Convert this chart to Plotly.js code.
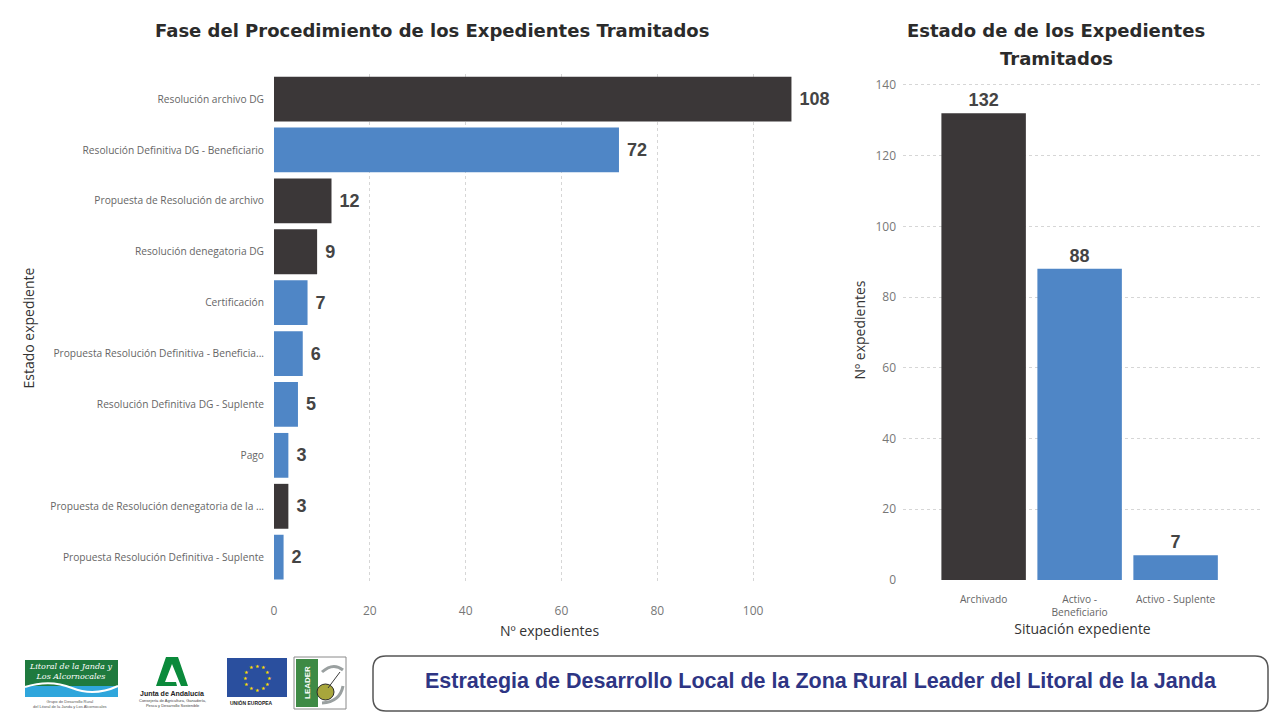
<!DOCTYPE html>
<html>
<head>
<meta charset="utf-8">
<script src="https://cdn.plot.ly/plotly-3.0.1.min.js"></script>
<style>
html,body{margin:0;padding:0;background:#fff;}
#chart{width:1280px;height:720px;}
</style>
</head>
<body>
<div id="chart"></div>
<script>
// ---- data ----
const fases = [
  'Resolución archivo DG',
  'Resolución Definitiva DG - Beneficiario',
  'Propuesta de Resolución de archivo',
  'Resolución denegatoria DG',
  'Certificación',
  'Propuesta Resolución Definitiva - Beneficia...',
  'Resolución Definitiva DG - Suplente',
  'Pago',
  'Propuesta de Resolución denegatoria de la ...',
  'Propuesta Resolución Definitiva - Suplente'
];
const faseValores = [108, 72, 12, 9, 7, 6, 5, 3, 3, 2];
const faseSituacion = ['Archivado','Activo','Archivado','Archivado','Activo','Activo','Activo','Activo','Archivado','Activo'];

const situaciones = ['Archivado', 'Activo -<br>Beneficiario', 'Activo - Suplente'];
const situacionValores = [132, 88, 7];
const situacionTipo = ['Archivado', 'Activo', 'Activo'];

const xTicks = [0, 20, 40, 60, 80, 100];
const yTicks = [0, 20, 40, 60, 80, 100, 120, 140];

// ---- styling ----
const colorMap = {Archivado: '#3b3738', Activo: '#4f86c6'};
const W = 1280, H = 720;
const X = px => px / W;
const Y = py => 1 - py / H;
const uiFont = 'Segoe UI, Open Sans, Noto Sans, sans-serif';
const titleFont = {family: 'DejaVu Sans, sans-serif', size: 18, color: '#2b2b2b', weight: 'bold'};
const labelFont = {family: 'Liberation Sans, Arial, sans-serif', size: 18, color: '#444444', weight: 'bold'};

const traces = [
  {
    type: 'bar', orientation: 'h',
    y: fases, x: faseValores,
    marker: {color: faseSituacion.map(s => colorMap[s])},
    text: faseValores.map(v => '\u00a0' + v), textposition: 'outside',
    textfont: labelFont, cliponaxis: false,
    xaxis: 'x', yaxis: 'y', hoverinfo: 'x+y'
  },
  {
    type: 'bar',
    x: situaciones, y: situacionValores,
    marker: {color: situacionTipo.map(s => colorMap[s])},
    text: situacionValores.map(String), textposition: 'outside',
    textfont: labelFont, cliponaxis: false,
    xaxis: 'x2', yaxis: 'y2', hoverinfo: 'x+y'
  }
];

// rounded rectangle path in paper coords
function roundRect(x0, y0, x1, y1, r) {
  const p = (x, y) => X(x) + ',' + Y(y);
  return 'M' + p(x0 + r, y0) + ' L' + p(x1 - r, y0) + ' Q' + p(x1, y0) + ' ' + p(x1, y0 + r) +
    ' L' + p(x1, y1 - r) + ' Q' + p(x1, y1) + ' ' + p(x1 - r, y1) +
    ' L' + p(x0 + r, y1) + ' Q' + p(x0, y1) + ' ' + p(x0, y1 - r) +
    ' L' + p(x0, y0 + r) + ' Q' + p(x0, y0) + ' ' + p(x0 + r, y0) + ' Z';
}
function pathPx(pts, close) {
  return pts.map((pt, i) => (i ? 'L' : 'M') + X(pt[0]) + ',' + Y(pt[1])).join(' ') + (close ? ' Z' : '');
}

const shapes = [
  // banner box
  {type: 'path', xref: 'paper', yref: 'paper', path: roundRect(373, 656, 1268, 711, 13),
   line: {color: '#555555', width: 1.5}, fillcolor: 'rgba(0,0,0,0)'},
  // logo 1: Litoral
  {type: 'rect', xref: 'paper', yref: 'paper', x0: X(25), x1: X(118), y0: Y(660), y1: Y(697),
   fillcolor: '#1f7a3e', line: {width: 0}},
  {type: 'rect', xref: 'paper', yref: 'paper', x0: X(25), x1: X(118), y0: Y(686), y1: Y(697),
   fillcolor: '#2fa6dc', line: {width: 0}},
  {type: 'path', xref: 'paper', yref: 'paper',
   path: 'M' + X(25) + ',' + Y(687) + ' Q' + X(50) + ',' + Y(679) + ' ' + X(72) + ',' + Y(688) + ' T' + X(118) + ',' + Y(686),
   line: {color: '#ffffff', width: 2}},
  // logo 2: Junta de Andalucía "A"
  {type: 'path', xref: 'paper', yref: 'paper',
   path: pathPx([[166, 657], [178, 657], [188, 686], [181, 686], [172, 664], [165, 682], [176, 682], [177, 686], [156, 686]], true),
   fillcolor: '#0b8a3b', line: {width: 0}},
  // logo 3: EU flag
  {type: 'rect', xref: 'paper', yref: 'paper', x0: X(227), x1: X(287), y0: Y(658), y1: Y(697),
   fillcolor: '#2a4f9e', line: {width: 0}},
  // logo 4: LEADER
  {type: 'rect', xref: 'paper', yref: 'paper', x0: X(294), x1: X(346), y0: Y(657), y1: Y(709),
   fillcolor: '#ffffff', line: {color: '#8a8a8a', width: 1}},
  {type: 'rect', xref: 'paper', yref: 'paper', x0: X(296), x1: X(318), y0: Y(659), y1: Y(707),
   fillcolor: '#3e8a45', line: {width: 0}},
  {type: 'path', xref: 'paper', yref: 'paper',
   path: 'M' + X(322) + ',' + Y(672) + ' Q' + X(333) + ',' + Y(662) + ' ' + X(343) + ',' + Y(670),
   line: {color: '#9aa0a0', width: 3}},
  {type: 'path', xref: 'paper', yref: 'paper',
   path: 'M' + X(343) + ',' + Y(686) + ' Q' + X(340) + ',' + Y(702) + ' ' + X(322) + ',' + Y(703),
   line: {color: '#9aa0a0', width: 3}},
  {type: 'circle', xref: 'paper', yref: 'paper', x0: X(317), x1: X(334), y0: Y(684), y1: Y(700),
   fillcolor: '#a8a63c', line: {color: '#2b2b2b', width: 1}},
  {type: 'path', xref: 'paper', yref: 'paper',
   path: 'M' + X(328) + ',' + Y(688) + ' L' + X(340) + ',' + Y(672),
   line: {color: '#3a3a3a', width: 1}}
];

const annotations = [
  // titles
  {text: 'Fase del Procedimiento de los Expedientes Tramitados', xref: 'paper', yref: 'paper',
   x: X(432), y: Y(31), xanchor: 'center', yanchor: 'middle', showarrow: false, font: titleFont},
  {text: 'Estado de de los Expedientes', xref: 'paper', yref: 'paper',
   x: X(1056), y: Y(31), xanchor: 'center', yanchor: 'middle', showarrow: false, font: titleFont},
  {text: 'Tramitados', xref: 'paper', yref: 'paper',
   x: X(1056), y: Y(58), xanchor: 'center', yanchor: 'middle', showarrow: false, font: titleFont},
  // banner
  {text: 'Estrategia de Desarrollo Local de la Zona Rural Leader del Litoral de la Janda', xref: 'paper', yref: 'paper',
   x: X(821), y: Y(681), xanchor: 'center', yanchor: 'middle', showarrow: false,
   font: {family: 'Liberation Sans, Arial, sans-serif', size: 21.5, color: '#2e3584', weight: 'bold'}},
  // logo texts
  {text: '<i>Litoral de la Janda y<br>Los Alcornocales</i>', xref: 'paper', yref: 'paper',
   x: X(70), y: Y(671), xanchor: 'center', yanchor: 'middle', showarrow: false,
   font: {family: 'DejaVu Serif, serif', size: 8, color: '#ffffff'}},
  {text: 'Grupo de Desarrollo Rural<br>del Litoral de la Janda y Los Alcornocales', xref: 'paper', yref: 'paper',
   x: X(70), y: Y(704), xanchor: 'center', yanchor: 'middle', showarrow: false,
   font: {family: 'Liberation Sans, sans-serif', size: 4, color: '#555'}},
  {text: '<b>Junta de Andalucía</b>', xref: 'paper', yref: 'paper',
   x: X(172), y: Y(693), xanchor: 'center', yanchor: 'middle', showarrow: false,
   font: {family: 'Liberation Sans, sans-serif', size: 7, color: '#222'}},
  {text: 'Consejería de Agricultura, Ganadería,<br>Pesca y Desarrollo Sostenible', xref: 'paper', yref: 'paper',
   x: X(172), y: Y(703), xanchor: 'center', yanchor: 'middle', showarrow: false,
   font: {family: 'Liberation Sans, sans-serif', size: 4, color: '#444'}},
  {text: '<b>UNIÓN EUROPEA</b>', xref: 'paper', yref: 'paper',
   x: X(228), y: Y(702), xanchor: 'left', yanchor: 'middle', showarrow: false,
   font: {family: 'Liberation Sans, sans-serif', size: 5, color: '#222'}},
  {text: '<b>LEADER</b>', xref: 'paper', yref: 'paper', textangle: -90,
   x: X(307), y: Y(683), xanchor: 'center', yanchor: 'middle', showarrow: false,
   font: {family: 'Liberation Sans, sans-serif', size: 8, color: '#ffffff'}}
];
// EU stars
for (let i = 0; i < 12; i++) {
  const a = i * Math.PI / 6;
  annotations.push({text: '★', xref: 'paper', yref: 'paper', showarrow: false,
    x: X(257 + 12 * Math.cos(a)), y: Y(677.5 + 12 * Math.sin(a)), xanchor: 'center', yanchor: 'middle',
    font: {size: 5, color: '#ffdd00'}});
}

const layout = {
  width: W, height: H,
  margin: {l: 0, r: 0, t: 0, b: 0},
  paper_bgcolor: '#ffffff', plot_bgcolor: '#ffffff',
  showlegend: false,
  bargap: 0.12,
  font: {family: uiFont, color: '#666666'},
  xaxis: {
    domain: [X(274), X(825)], range: [0, 115], anchor: 'y',
    tickvals: xTicks, ticktext: xTicks.map(String),
    showgrid: true, gridcolor: '#d6d6d6', griddash: 'dot', zeroline: false,
    showline: false, ticks: '', ticklabelstandoff: 19, tickfont: {size: 12, color: '#777777'},
    title: {text: 'Nº expedientes', font: {size: 14, color: '#333333'}, standoff: 8}
  },
  yaxis: {
    domain: [Y(582.6), Y(73.6)], type: 'category', autorange: 'reversed', anchor: 'x',
    showgrid: false, showline: false, ticks: '', ticklabelstandoff: 9,
    tickfont: {size: 10.2, color: '#666666'},
    title: {text: 'Estado expediente', font: {size: 14, color: '#333333'}, standoff: 12}
  },
  xaxis2: {
    domain: [X(903), X(1262)], range: [-0.84, 2.9], anchor: 'y2', type: 'category',
    showgrid: false, showline: false, ticks: '', ticklabelstandoff: 12, tickfont: {size: 10.2, color: '#666666'},
    title: {text: 'Situación expediente', font: {size: 14, color: '#333333'}, standoff: 3}
  },
  yaxis2: {
    domain: [Y(580), Y(80)], range: [0, 141.4], anchor: 'x2',
    tickvals: yTicks, ticktext: yTicks.map(String),
    showgrid: true, gridcolor: '#d6d6d6', griddash: 'dot', zeroline: false,
    showline: false, ticks: '', ticklabelstandoff: 6, tickfont: {size: 12, color: '#777777'},
    title: {text: 'Nº expedientes', font: {size: 14, color: '#333333'}}
  },
  shapes: shapes,
  annotations: annotations
};

Plotly.newPlot('chart', traces, layout, {displayModeBar: false, staticPlot: true});
</script>
</body>
</html>
